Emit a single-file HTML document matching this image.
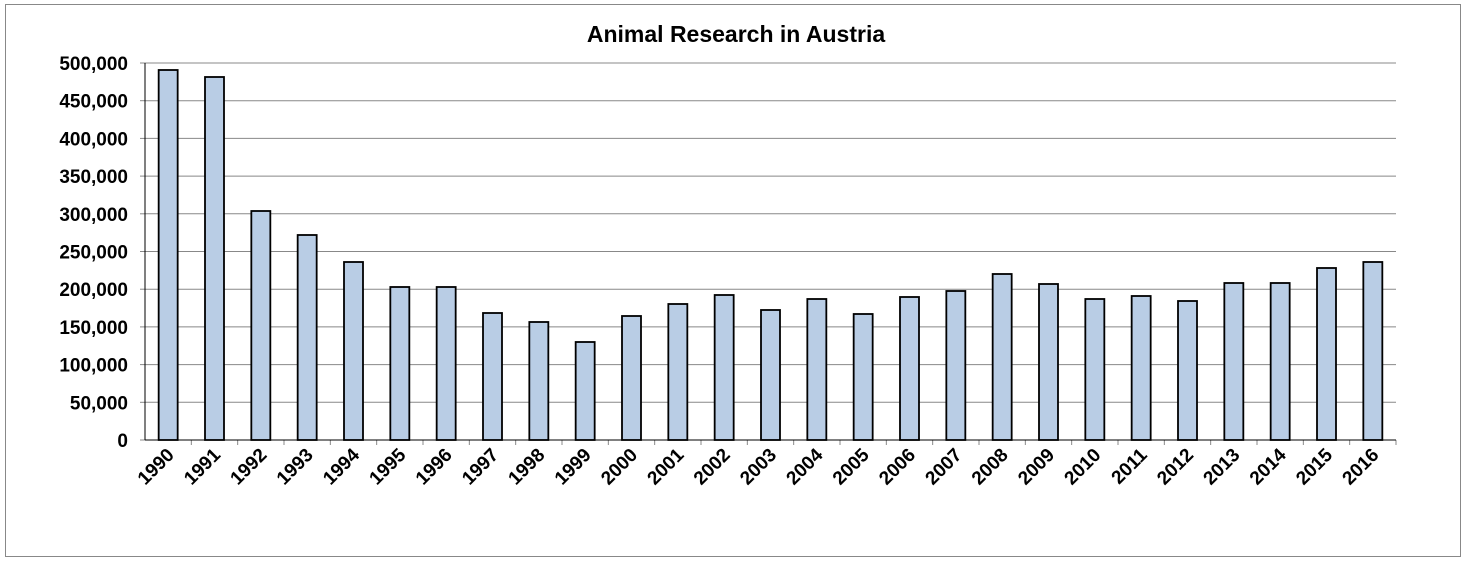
<!DOCTYPE html>
<html><head><meta charset="utf-8"><style>
html,body{margin:0;padding:0;background:#fff;}
svg{display:block;font-family:"Liberation Sans",Arial,sans-serif;}
</style></head><body>
<svg id="c" width="1465" height="562" xmlns="http://www.w3.org/2000/svg">
<rect x="5.5" y="4.5" width="1455" height="552" fill="#fff" stroke="#888" stroke-width="1"/>
<text x="736" y="42" text-anchor="middle" font-size="23" font-weight="bold">Animal Research in Austria</text>
</svg>
<script>
var s=document.getElementById('c'),ns='http://www.w3.org/2000/svg';
function el(t,a,txt){var e=document.createElementNS(ns,t);for(var k in a)e.setAttribute(k,a[k]);if(txt)e.textContent=txt;s.appendChild(e);return e;}
var L=145,R=1396,Z=440,T=63;
for(var i=0;i<=10;i++){var y=Z-(Z-T)*i/10;
 if(i>0)el('line',{x1:L,x2:R,y1:y,y2:y,stroke:'#888','stroke-width':1});
 el('line',{x1:L-5,x2:L,y1:y,y2:y,stroke:'#888'});
 var v=i*50000;el('text',{x:128,y:y+7,'text-anchor':'end','font-size':19,'font-weight':'bold'},v==0?'0':v.toLocaleString('en-US'));}
el('line',{x1:L,x2:L,y1:T,y2:Z,stroke:'#000'});
var tops=[70,77,211,235,262,287,287,313,322,342,316,304,295,310,299,314,297,291,274,284,299,296,301,283,283,268,262];
var w=(R-L)/27;
for(var i=0;i<27;i++){var c=L+w*(i+0.5);
 el('rect',{x:c-9.5,y:tops[i],width:19,height:Z-tops[i],fill:'#b9cde5',stroke:'#000','stroke-width':1.8});
 el('line',{x1:L+w*(i+1),x2:L+w*(i+1),y1:Z,y2:Z+5,stroke:'#888'});
 el('text',{x:0,y:0,'text-anchor':'end','font-size':19,'font-weight':'bold',transform:'translate('+(c+7)+','+(Z+16)+') rotate(-45)'},String(1990+i));}
el('line',{x1:L,x2:R,y1:Z,y2:Z,stroke:'#000'});
</script>
</body></html>
